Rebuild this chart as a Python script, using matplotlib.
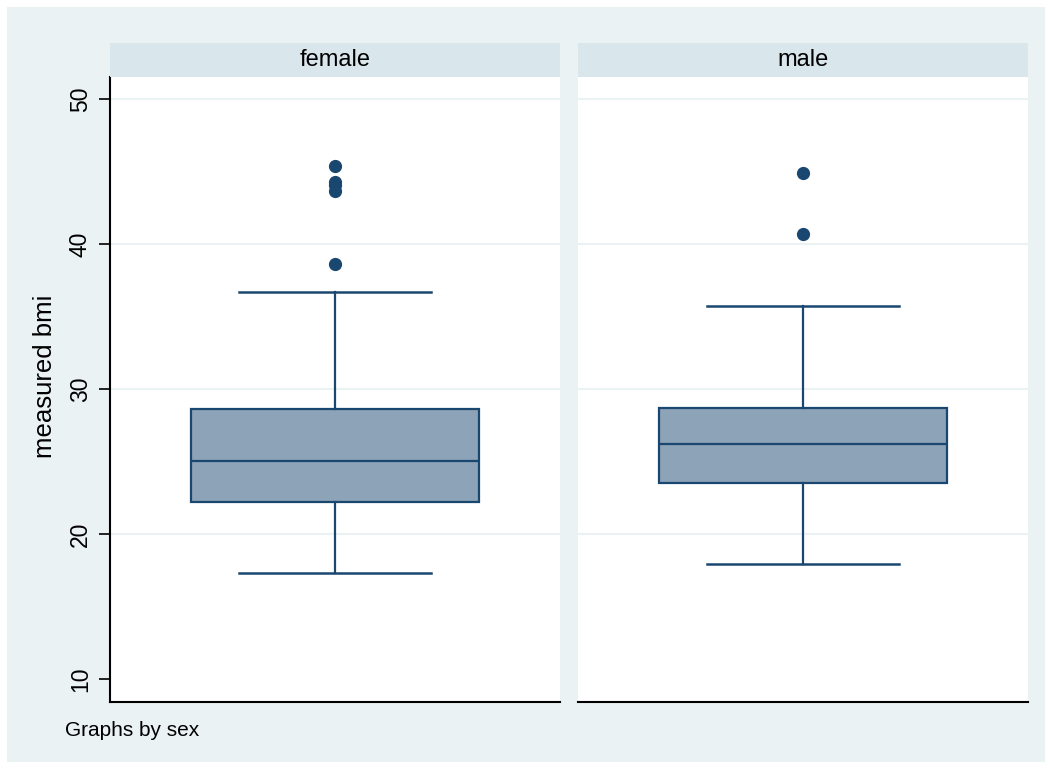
import matplotlib.pyplot as plt
from matplotlib.patches import Rectangle

plt.rcParams['font.family'] = ['Liberation Sans', 'DejaVu Sans']

# box plot summaries of measured bmi by sex
groups = ['female', 'male']
whislo = [17.33, 17.95]
q1 = [22.24, 23.53]
med = [25.07, 26.22]
q3 = [28.63, 28.70]
whishi = [36.69, 35.71]
fliers = [[45.35, 44.30, 44.05, 43.62, 38.62], [44.89, 40.68]]
yticks = [10, 20, 30, 40, 50]

navy = '#1A476F'
boxfill = '#8DA3B8'
bg = '#EAF2F3'
strip = '#D9E6EC'

fig = plt.figure(figsize=(10.53, 7.69), dpi=100)
fig.patch.set_facecolor('white')
fig.patches.append(Rectangle((7 / 1053, 1 - 762 / 769), 1038 / 1053, 755 / 769,
                             transform=fig.transFigure, facecolor=bg,
                             edgecolor='none', zorder=-1))

lefts = [110 / 1053, 578 / 1053]
width = 450 / 1053
bottom = 1 - 702 / 769
height = (702 - 77) / 769
strip_h = (77 - 43) / 769

for i, name in enumerate(groups):
    ax = fig.add_axes([lefts[i], bottom, width, height])
    stats = [dict(label=name, whislo=whislo[i], q1=q1[i], med=med[i],
                  q3=q3[i], whishi=whishi[i], fliers=fliers[i])]
    ax.bxp(stats, positions=[0.5], widths=0.64, capwidths=0.428,
           patch_artist=True,
           boxprops=dict(facecolor=boxfill, edgecolor=navy, linewidth=1.6),
           medianprops=dict(color=navy, linewidth=1.6),
           whiskerprops=dict(color=navy, linewidth=1.6),
           capprops=dict(color=navy, linewidth=1.8),
           flierprops=dict(marker='o', markerfacecolor=navy,
                           markeredgecolor=navy, markersize=8.5))
    ax.set_xlim(0, 1)
    ax.set_ylim(8.44, 51.5)
    ax.set_xticks([])
    ax.set_yticks(yticks)
    for t in yticks[1:]:
        ax.axhline(t, color=bg, linewidth=1.5, zorder=0)
    for s in ['top', 'right']:
        ax.spines[s].set_visible(False)
    ax.spines['bottom'].set_linewidth(1.5)
    ax.spines['left'].set_linewidth(1.5)
    if i == 0:
        ax.set_yticklabels([str(t) for t in yticks], rotation=90, va='center',
                           fontsize=16.5)
        ax.tick_params(axis='y', length=8, width=1.2, pad=5)
    else:
        ax.spines['left'].set_visible(False)
        ax.tick_params(axis='y', left=False, labelleft=False)

    # header strip with the group name
    fig.patches.append(Rectangle((lefts[i], bottom + height), width, strip_h,
                                 transform=fig.transFigure, facecolor=strip,
                                 edgecolor='none'))
    fig.text(lefts[i] + width / 2, bottom + height + strip_h / 2, name,
             ha='center', va='center', fontsize=17)

fig.text(45 / 1053, 1 - 376 / 769, 'measured bmi', rotation=90, ha='center',
         va='center', fontsize=18.5)
fig.text(65 / 1053, 1 - 731 / 769, 'Graphs by sex', ha='left', va='center',
         fontsize=15)

plt.savefig('out.png', dpi=100)
